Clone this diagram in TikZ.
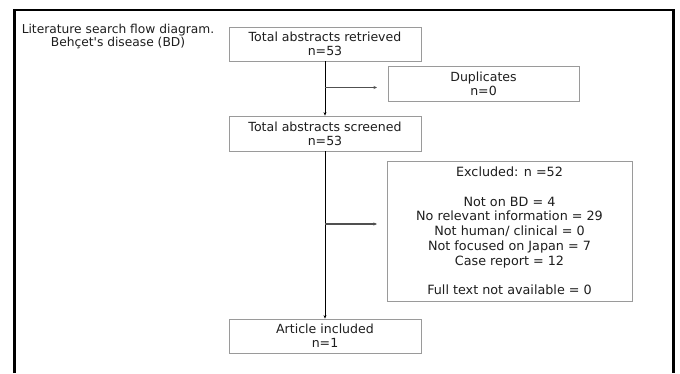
\documentclass[tikz,border=0pt]{standalone}
\usepackage{fontspec}
\setmainfont{DejaVu Sans}[Ligatures=TeXOff]
\usetikzlibrary{arrows.meta}
\definecolor{boxgray}{HTML}{9A9A9A}
\definecolor{txt}{HTML}{1E1E1E}
\definecolor{sidegray}{HTML}{505050}
\begin{document}
\begin{tikzpicture}[x=1bp,y=-1bp,
  flowbox/.style={draw=boxgray,line width=0.8bp,fill=white,text=txt,align=center,
    inner sep=0pt,font=\fontsize{12.6}{14.3}\selectfont},
  mainarrow/.style={draw=black,line width=0.8bp,-{Stealth[length=3.5bp,width=3bp]}},
  sidearrow/.style={draw=sidegray,line width=1.1bp,-{Stealth[length=3.5bp,width=3bp]}},
  frameline/.style={draw=black,line width=2.2bp}]
\useasboundingbox (0,0) rectangle (680,373);
\fill[white] (0,0) rectangle (680,373);
\draw[frameline] (14.5,373) -- (14.5,10) -- (673.5,10) -- (673.5,373);
\node[text=txt,align=center,font=\fontsize{12.3}{11.8}\selectfont] (title) at (118,36.5)
  {Literature search flow diagram.\\Behçet's disease (BD)};
\node[flowbox,minimum width=192bp,minimum height=34bp] (retr) at (325,44) {Total abstracts retrieved\\n=53};
\node[flowbox,minimum width=191bp,minimum height=35bp] (dup) at (483.5,83.5) {Duplicates\\n=0};
\node[flowbox,minimum width=192bp,minimum height=35bp] (scr) at (325,133.5) {Total abstracts screened\\n=53};
\node[flowbox,minimum width=245bp,minimum height=140bp,font=\fontsize{12.8}{14.85}\selectfont] (exc) at (509.5,231)
  {Excluded: n =52\\[14.85bp]Not on BD = 4\\No relevant information = 29\\Not human/ clinical = 0\\Not focused on Japan = 7\\Case report = 12\\[14.85bp]Full text not available = 0};
\node[flowbox,minimum width=192bp,minimum height=34bp] (inc) at (325,336) {Article included\\n=1};
\draw[mainarrow] (retr.south) -- (scr.north);
\draw[mainarrow] (scr.south) -- (inc.north);
\coordinate (d0) at (325,87.5);
\coordinate (d1) at (377,87.5);
\coordinate (e0) at (325,224);
\coordinate (e1) at (377,224);
\draw[sidearrow] (d0) -- (d1);
\draw[sidearrow] (e0) -- (e1);
\end{tikzpicture}
\end{document}
